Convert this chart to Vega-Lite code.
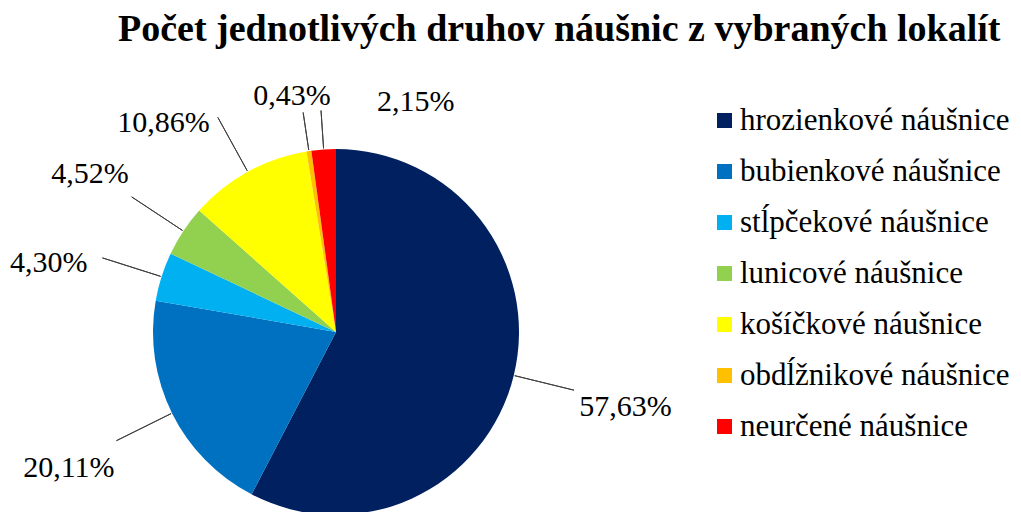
{
  "$schema": "https://vega.github.io/schema/vega-lite/v6.json",
  "autosize": "none",
  "width": 672,
  "height": 524,
  "padding": {"left": 0, "top": 70, "right": 349, "bottom": 0},
  "background": "white",
  "title": {
    "text": "Počet jednotlivých druhov náušnic z vybraných lokalít",
    "font": "Liberation Serif",
    "fontSize": 38,
    "fontWeight": "bold",
    "color": "#000000",
    "anchor": "start",
    "frame": "group",
    "dx": 118,
    "offset": 21
  },
  "data": {
    "values": [
      {"druh": "hrozienkové náušnice", "podiel": 57.63, "poradie": 1},
      {"druh": "bubienkové náušnice", "podiel": 20.11, "poradie": 2},
      {"druh": "stĺpčekové náušnice", "podiel": 4.30, "poradie": 3},
      {"druh": "lunicové náušnice", "podiel": 4.52, "poradie": 4},
      {"druh": "košíčkové náušnice", "podiel": 10.86, "poradie": 5},
      {"druh": "obdĺžnikové náušnice", "podiel": 0.43, "poradie": 6},
      {"druh": "neurčené náušnice", "podiel": 2.15, "poradie": 7}
    ]
  },
  "transform": [
    {"stack": "podiel", "groupby": [], "sort": [{"field": "poradie", "order": "ascending"}], "as": ["v0", "v1"]},
    {"calculate": "(datum.v0 + datum.v1) / 2", "as": "mid"},
    {"calculate": "replace(format(datum.podiel, '.2f'), '.', ',') + '%'", "as": "stitok"}
  ],
  "layer": [
    {
      "mark": {"type": "arc", "outerRadius": 183, "stroke": null},
      "encoding": {
        "theta": {"field": "v0", "type": "quantitative", "scale": {"domain": [0, 100]}},
        "theta2": {"field": "v1"},
        "color": {
          "field": "druh",
          "type": "nominal",
          "scale": {
            "domain": ["hrozienkové náušnice", "bubienkové náušnice", "stĺpčekové náušnice", "lunicové náušnice", "košíčkové náušnice", "obdĺžnikové náušnice", "neurčené náušnice"],
            "range": ["#002060", "#0070C0", "#00B0F0", "#92D050", "#FFFF00", "#FFC000", "#FF0000"]
          },
          "legend": {
            "title": null,
            "orient": "none",
            "legendX": 709,
            "legendY": 35,
            "padding": 0,
            "symbolType": "square",
            "symbolSize": 225,
            "symbolStrokeWidth": 0,
            "labelFont": "Liberation Serif",
            "labelFontSize": 31,
            "labelColor": "#000000",
            "labelOffset": 0,
            "rowPadding": 19,
            "labelLimit": 400
          }
        }
      }
    },
    {
      "transform": [{"filter": "datum.poradie <= 5"}],
      "mark": {"type": "arc", "filled": false, "innerRadius": 184, "outerRadius": 245, "stroke": "#404040", "strokeWidth": 1},
      "encoding": {
        "theta": {"field": "mid", "type": "quantitative", "scale": {"domain": [0, 100]}},
        "theta2": {"field": "mid"}
      }
    },
    {
      "transform": [{"filter": "datum.poradie >= 6"}],
      "mark": {"type": "arc", "filled": false, "innerRadius": 184, "outerRadius": 222, "stroke": "#404040", "strokeWidth": 1},
      "encoding": {
        "theta": {"field": "mid", "type": "quantitative", "scale": {"domain": [0, 100]}},
        "theta2": {"field": "mid"}
      }
    },
    {
      "transform": [{"filter": "datum.poradie <= 2"}],
      "mark": {"type": "text", "radius": 298, "dy": 4, "font": "Liberation Serif", "fontSize": 30, "color": "#000000"},
      "encoding": {
        "theta": {"field": "mid", "type": "quantitative", "scale": {"domain": [0, 100]}},
        "text": {"field": "stitok"}
      }
    },
    {
      "transform": [{"filter": "datum.poradie == 3"}],
      "mark": {"type": "text", "radius": 295, "dx": -6, "dy": 20, "font": "Liberation Serif", "fontSize": 30, "color": "#000000"},
      "encoding": {
        "theta": {"field": "mid", "type": "quantitative", "scale": {"domain": [0, 100]}},
        "text": {"field": "stitok"}
      }
    },
    {
      "transform": [{"filter": "datum.poradie == 4"}],
      "mark": {"type": "text", "radius": 295, "dy": 5, "font": "Liberation Serif", "fontSize": 30, "color": "#000000"},
      "encoding": {
        "theta": {"field": "mid", "type": "quantitative", "scale": {"domain": [0, 100]}},
        "text": {"field": "stitok"}
      }
    },
    {
      "transform": [{"filter": "datum.poradie == 5"}],
      "mark": {"type": "text", "radius": 250, "dx": -52, "dy": 10, "font": "Liberation Serif", "fontSize": 30, "color": "#000000"},
      "encoding": {
        "theta": {"field": "mid", "type": "quantitative", "scale": {"domain": [0, 100]}},
        "text": {"field": "stitok"}
      }
    },
    {
      "transform": [{"filter": "datum.poradie == 6"}],
      "mark": {"type": "text", "radius": 236, "dx": -9, "dy": -3, "font": "Liberation Serif", "fontSize": 30, "color": "#000000"},
      "encoding": {
        "theta": {"field": "mid", "type": "quantitative", "scale": {"domain": [0, 100]}},
        "text": {"field": "stitok"}
      }
    },
    {
      "transform": [{"filter": "datum.poradie == 7"}],
      "mark": {"type": "text", "radius": 240, "dx": 96, "dy": 9, "font": "Liberation Serif", "fontSize": 30, "color": "#000000"},
      "encoding": {
        "theta": {"field": "mid", "type": "quantitative", "scale": {"domain": [0, 100]}},
        "text": {"field": "stitok"}
      }
    }
  ],
  "config": {"view": {"stroke": null}}
}
